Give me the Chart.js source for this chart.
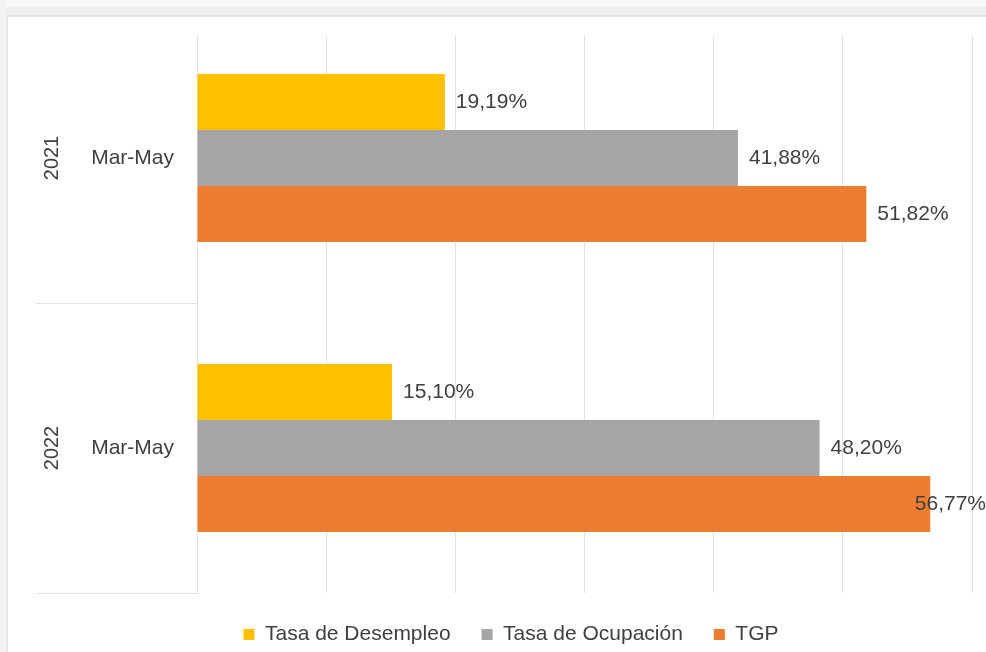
<!DOCTYPE html>
<html lang="es">
<head>
    <meta charset="UTF-8">
    <title>Tasas de desempleo, ocupación y TGP</title>
    <script src="https://cdn.jsdelivr.net/npm/chart.js"></script>
    <style>
        body {
            margin: 0;
            background-color: #ffffff;
        }
        canvas {
            display: block;
        }
    </style>
</head>
<body>
    <canvas id="chart" width="986" height="652"></canvas>
    <script>
        const years = ["2021", "2022"];
        const periods = ["Mar-May", "Mar-May"];
        const seriesNames = ["Tasa de Desempleo", "Tasa de Ocupación", "TGP"];
        const desempleo = [19.19, 15.10];
        const ocupacion = [41.88, 48.20];
        const tgp = [51.82, 56.77];

        const textColor = "#404040";
        const fontFamily = "'Liberation Sans', Arial, sans-serif";

        // etiquetas de valor al final de cada barra
        const valueLabels = {
            id: "valueLabels",
            afterDatasetsDraw(chart) {
                const ctx = chart.ctx;
                ctx.save();
                ctx.font = "21px " + fontFamily;
                ctx.fillStyle = textColor;
                ctx.textBaseline = "middle";
                ctx.textAlign = "left";
                chart.data.datasets.forEach((ds, i) => {
                    chart.getDatasetMeta(i).data.forEach((bar, j) => {
                        const text = ds.data[j].toFixed(2).replace(".", ",") + "%";
                        const w = ctx.measureText(text).width;
                        const x = Math.min(bar.x + 11, chart.width - w);
                        ctx.fillText(text, x, bar.y);
                    });
                });
                ctx.restore();
            }
        };

        // años en vertical y líneas de separación de grupos
        const groupAxis = {
            id: "groupAxis",
            afterDraw(chart) {
                const ctx = chart.ctx;
                const yScale = chart.scales.y;
                const area = chart.chartArea;
                ctx.save();
                ctx.strokeStyle = "#e2e2e2";
                ctx.lineWidth = 1;
                years.forEach((year, i) => {
                    const yc = yScale.getPixelForValue(i);
                    const bottom = i < years.length - 1
                        ? (yc + yScale.getPixelForValue(i + 1)) / 2
                        : area.bottom;
                    ctx.beginPath();
                    ctx.moveTo(35, Math.round(bottom) + 0.5);
                    ctx.lineTo(area.left, Math.round(bottom) + 0.5);
                    ctx.stroke();

                    ctx.save();
                    ctx.translate(52, yc);
                    ctx.rotate(-Math.PI / 2);
                    ctx.font = "20px " + fontFamily;
                    ctx.fillStyle = textColor;
                    ctx.textAlign = "center";
                    ctx.textBaseline = "middle";
                    ctx.fillText(year, 0, 0);
                    ctx.restore();
                });

                // marco gris de la captura
                ctx.fillStyle = "#ffffff";
                ctx.fillRect(0, 16, chart.width, 19);
                ctx.fillStyle = "#f7f7f7";
                ctx.fillRect(0, 0, chart.width, 7);
                ctx.fillStyle = "#efefef";
                ctx.fillRect(0, 7, chart.width, 8);
                ctx.fillStyle = "#e4e4e4";
                ctx.fillRect(0, 15, chart.width, 2);
                ctx.fillStyle = "#f3f3f3";
                ctx.fillRect(0, 0, 6, chart.height);
                ctx.fillStyle = "#e8e8e8";
                ctx.fillRect(6, 16, 2, chart.height - 16);
                ctx.restore();
            }
        };

        new Chart(document.getElementById("chart"), {
            type: "bar",
            data: {
                labels: periods,
                datasets: [{
                    label: seriesNames[0],
                    data: desempleo,
                    backgroundColor: "#ffc000"
                }, {
                    label: seriesNames[1],
                    data: ocupacion,
                    backgroundColor: "#a5a5a5"
                }, {
                    label: seriesNames[2],
                    data: tgp,
                    backgroundColor: "#ed7d31"
                }]
            },
            options: {
                indexAxis: "y",
                responsive: false,
                animation: false,
                categoryPercentage: 0.58,
                barPercentage: 1,
                layout: {
                    padding: { top: 13, right: 14, bottom: 0, left: 50 }
                },
                plugins: {
                    legend: {
                        position: "bottom",
                        maxHeight: 59,
                        labels: {
                            boxWidth: 11,
                            boxHeight: 11,
                            padding: 31,
                            color: textColor,
                            font: { family: fontFamily, size: 21 }
                        }
                    },
                    tooltip: { enabled: false }
                },
                scales: {
                    x: {
                        min: 0,
                        max: 60,
                        ticks: { display: false, stepSize: 10 },
                        grid: { color: "#e3e3e3", drawTicks: false },
                        border: { display: false }
                    },
                    y: {
                        grid: { display: false, drawTicks: false },
                        border: { display: true, color: "#e3e3e3" },
                        ticks: {
                            padding: 23,
                            color: textColor,
                            font: { family: fontFamily, size: 21 }
                        },
                        afterFit(scale) {
                            scale.width = 147;
                            scale.paddingTop = 0;
                            scale.paddingBottom = 0;
                        }
                    }
                }
            },
            plugins: [valueLabels, groupAxis]
        });
    </script>
</body>
</html>
